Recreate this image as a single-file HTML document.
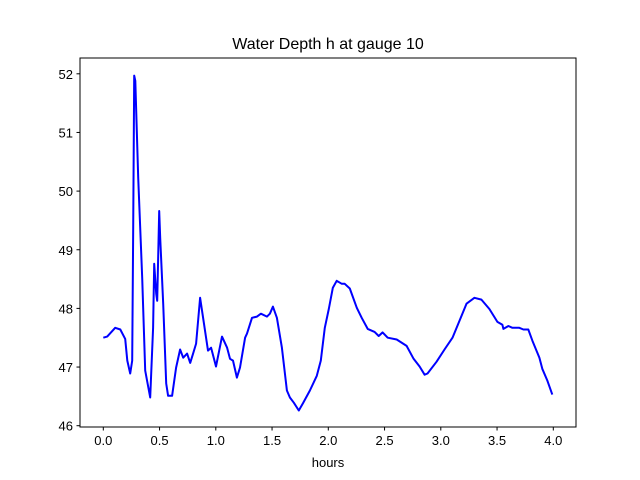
<!DOCTYPE html>
<html><head><meta charset="utf-8"><style>
body{margin:0;background:#fff}
svg{display:block;font-family:"Liberation Sans","DejaVu Sans",sans-serif}
</style></head><body>
<svg id="chart" width="640" height="480">
<rect width="640" height="480" fill="#fff"/>
<text x="328" y="49" text-anchor="middle" font-size="16">Water Depth h at gauge 10</text>
<g id="ticks"></g>
<polyline id="series" fill="none" stroke="#0000ff" stroke-width="2" stroke-linejoin="round"/>
<rect x="80" y="58" width="496" height="369" fill="none" stroke="#000" stroke-width="1"/>
<text x="328" y="467" text-anchor="middle" font-size="13">hours</text>
</svg>
<script>
const hours=[0,0.035,0.106,0.151,0.195,0.213,0.239,0.257,0.266,0.275,0.284,0.310,0.346,0.372,0.417,0.443,0.452,0.470,0.479,0.497,0.506,0.532,0.559,0.576,0.612,0.647,0.683,0.710,0.745,0.772,0.798,0.825,0.860,0.887,0.931,0.958,1.002,1.055,1.100,1.126,1.153,1.188,1.215,1.260,1.277,1.322,1.366,1.401,1.455,1.481,1.508,1.543,1.588,1.632,1.659,1.694,1.738,1.774,1.836,1.898,1.933,1.969,2.004,2.040,2.075,2.120,2.146,2.191,2.253,2.297,2.350,2.412,2.448,2.483,2.528,2.608,2.696,2.758,2.812,2.856,2.882,2.962,3.033,3.104,3.166,3.228,3.299,3.361,3.432,3.503,3.548,3.556,3.601,3.636,3.698,3.734,3.778,3.814,3.876,3.902,3.947,3.991];
const depth=[47.50,47.52,47.67,47.64,47.48,47.11,46.89,47.11,49.38,51.97,51.88,50.23,48.52,46.94,46.48,47.67,48.76,48.25,48.13,49.66,49.20,48.08,46.72,46.51,46.51,46.99,47.30,47.16,47.23,47.07,47.23,47.40,48.18,47.84,47.28,47.33,47.01,47.52,47.33,47.14,47.11,46.82,46.99,47.50,47.57,47.84,47.86,47.91,47.86,47.91,48.03,47.84,47.33,46.60,46.48,46.39,46.26,46.38,46.60,46.85,47.11,47.67,47.99,48.35,48.47,48.42,48.42,48.34,48.01,47.84,47.65,47.60,47.53,47.59,47.50,47.47,47.36,47.14,47.01,46.87,46.89,47.09,47.30,47.50,47.79,48.08,48.18,48.15,47.99,47.77,47.72,47.65,47.70,47.67,47.67,47.64,47.64,47.45,47.16,46.97,46.77,46.53];
const xTicks=[0,0.5,1,1.5,2,2.5,3,3.5,4];
const xTickLabels=["0.0","0.5","1.0","1.5","2.0","2.5","3.0","3.5","4.0"];
const yTicks=[46,47,48,49,50,51,52];
const X=t=>103.3+t*112.5;
const Y=h=>425.7-(h-46)*58.65;
const NS="http://www.w3.org/2000/svg";
const g=document.getElementById('ticks');
function mk(tag,attrs){const e=document.createElementNS(NS,tag);for(const k in attrs)e.setAttribute(k,attrs[k]);return e;}
xTicks.forEach((t,i)=>{
  const l=mk('line',{x1:X(t),x2:X(t),y1:427,y2:430.5,stroke:'#000'});
  
  
  g.appendChild(l);
  const tx=mk('text',{x:X(t),y:445,'text-anchor':'middle','font-size':'13'});
  
  
  tx.textContent=xTickLabels[i];g.appendChild(tx);
});
yTicks.forEach(v=>{
  const l=mk('line',{x1:76.5,x2:80,y1:Y(v),y2:Y(v),stroke:'#000'});
  
  
  g.appendChild(l);
  const tx=mk('text',{x:73,y:Y(v)+5,'text-anchor':'end','font-size':'13'});
  
  
  tx.textContent=String(v);g.appendChild(tx);
});
document.getElementById('series').setAttribute('points',hours.map((t,i)=>X(t).toFixed(1)+','+Y(depth[i]).toFixed(1)).join(' '));
</script>
</body></html>
